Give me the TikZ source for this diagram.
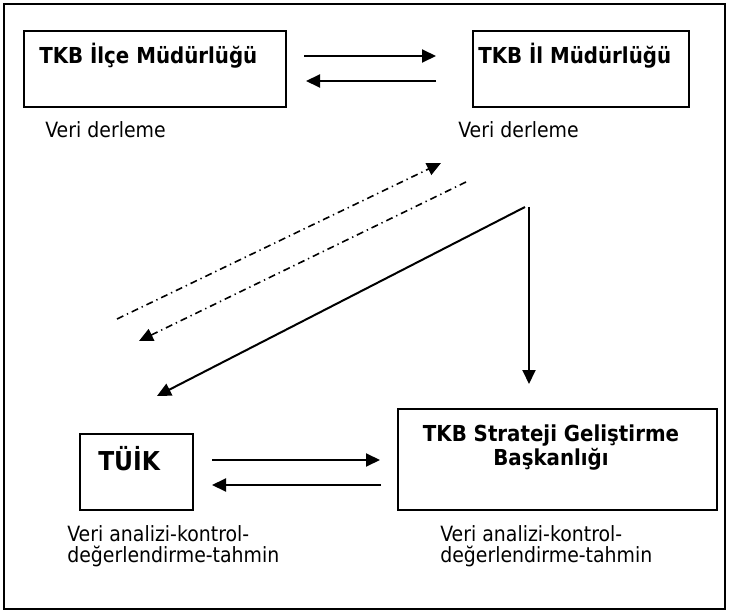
\documentclass[tikz,border=0pt]{standalone}
\usepackage{fontspec}
\setmainfont{DejaVu Sans}[FakeStretch=0.9]
\usetikzlibrary{arrows.meta}

\begin{document}
\begin{tikzpicture}[x=0.75pt,y=0.75pt,yscale=-1,xscale=1,
  kutu/.style={draw,line width=1.5pt,inner sep=0pt},
  baslik/.style={font=\fontsize{16.5}{18}\selectfont\bfseries,inner sep=0pt},
  aciklama/.style={font=\fontsize{15.75}{15.75}\selectfont,inner sep=0pt,align=left},
  ok/.style={line width=1.5pt,-{Triangle[length=10.5pt,width=9.75pt]}},
  noktali/.style={ok,line width=1.2pt,dash pattern=on 5.25pt off 3pt on 1pt off 3pt}]
\useasboundingbox (0,0) rectangle (729,613);

%Shape: Frame
\draw [line width=1.5pt] (4,4) rectangle (725,609);

%Shape: Rectangle [ilce]
\node [kutu,minimum width=196.5pt,minimum height=57pt] (ilce) at (155,69) {};
%Shape: Rectangle [il]
\node [kutu,minimum width=162pt,minimum height=57pt] (il) at (581,69) {};
%Shape: Rectangle [tuik]
\node [kutu,minimum width=84.75pt,minimum height=57pt] (tuik) at (136.5,472) {};
%Shape: Rectangle [sgb]
\node [kutu,minimum width=239.25pt,minimum height=75.75pt] (sgb) at (557.5,459.5) {};

% Text Node
\node [baslik,anchor=base west] (ilcet) at (39,64) {TKB İlçe Müdürlüğü};
% Text Node
\node [baslik,anchor=base west] (ilt) at (478,64) {TKB İl Müdürlüğü};
% Text Node
\node [baslik,font=\fontsize{19.5}{21}\selectfont\bfseries,anchor=base west] (tuikt) at (98,470) {TÜİK};
% Text Node (base = last line)
\node [baslik,align=center,anchor=base] (sgbt) at (551,465) {TKB Strateji Geliştirme\\Başkanlığı};

% Text Node
\node [aciklama,anchor=base west] (ilceacik) at (45,138) {Veri derleme};
% Text Node
\node [aciklama,anchor=base west] (ilacik) at (458,138) {Veri derleme};
% Text Node
\node [aciklama,anchor=base west] (tuikacik) at (67,562) {Veri analizi-kontrol-\\değerlendirme-tahmin};
% Text Node
\node [aciklama,anchor=base west] (sgbacik) at (440,562) {Veri analizi-kontrol-\\değerlendirme-tahmin};

% arrow ends
\coordinate (u1) at (304,56);  \coordinate (u2) at (436,56);
\coordinate (u3) at (436,81);  \coordinate (u4) at (306,81);
\coordinate (a1) at (212,460); \coordinate (a2) at (380,460);
\coordinate (a3) at (381,485); \coordinate (a4) at (212,485);
\coordinate (d1) at (117,319); \coordinate (d2) at (441,163);
\coordinate (d3) at (466,182); \coordinate (d4) at (139,341);
\coordinate (s0) at (525,207); \coordinate (s1) at (157,396);
\coordinate (v0) at (529,207); \coordinate (v1) at (529,384);

%Straight Lines
\draw [ok] (u1) -- (u2);
\draw [ok] (u3) -- (u4);
\draw [ok] (a1) -- (a2);
\draw [ok] (a3) -- (a4);
%Dash-dot Lines
\draw [noktali] (d1) -- (d2);
\draw [noktali] (d3) -- (d4);
%Straight Lines
\draw [ok] (s0) -- (s1);
\draw [ok] (v0) -- (v1);

\end{tikzpicture}
\end{document}
